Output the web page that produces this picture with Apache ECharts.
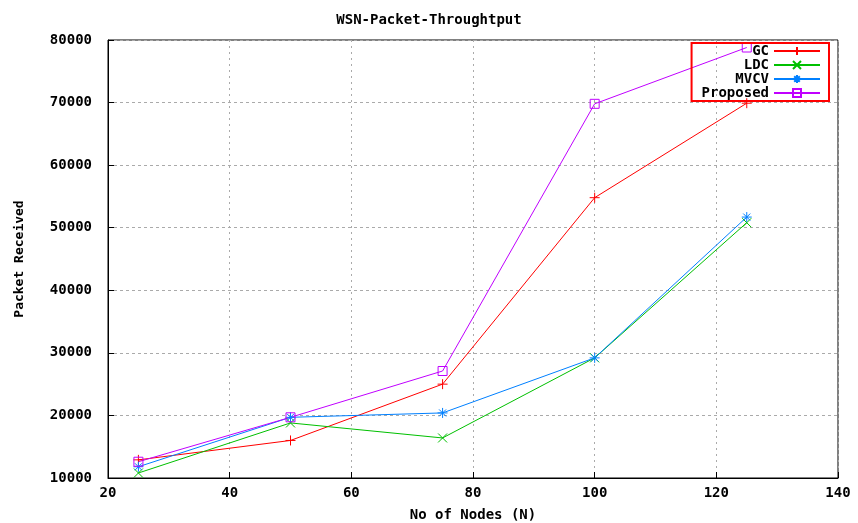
<!DOCTYPE html>
<html>
<head>
<meta charset="utf-8">
<script src="https://cdn.jsdelivr.net/npm/echarts@6/dist/echarts.min.js"></script>
<style>
html,body{margin:0;padding:0;background:#fff;}
#main{width:858px;height:523px;}
</style>
</head>
<body>
<div id="main"></div>
<script>
var nodes = [25, 50, 75, 100, 125];
var gc = [12900, 16000, 25000, 54800, 69900];
var ldc = [10800, 18800, 16400, 29200, 50800];
var mvcv = [11800, 19700, 20400, 29200, 51700];
var proposed = [12600, 19700, 27100, 69800, 78800];

var font = 'DejaVu Sans Mono';
var plus = 'path://M5,0L5,10M0,5L10,5';
var cross = 'path://M0,0L10,10M10,0L0,10';
var star = 'path://M5,0L5,10M0,5L10,5M1.5,1.5L8.5,8.5M8.5,1.5L1.5,8.5';

var mkSeries = function (name, data, color, symbol, size) {
    return {
        name: name,
        type: 'line',
        data: nodes.map(function (n, i) { return [n, data[i]]; }),
        symbol: symbol,
        symbolSize: size,
        showAllSymbol: true,
        lineStyle: {color: color, width: 1},
        itemStyle: {color: 'rgba(0,0,0,0)', borderColor: color, borderWidth: 1},
        emphasis: {disabled: true},
        animation: false
    };
};

var option = {
    backgroundColor: '#fff',
    title: {
        text: 'WSN-Packet-Throughtput',
        left: 'center',
        top: 8,
        textStyle: {fontFamily: font, fontSize: 14, fontWeight: 'bold', color: '#000'}
    },
    legend: {
        right: 29,
        top: 43,
        orient: 'vertical',
        align: 'right',
        itemGap: 0,
        itemWidth: 46,
        itemHeight: 10,
        padding: [1, 8, 1, 10],
        borderColor: '#ff0000',
        borderWidth: 2,
        textStyle: {fontFamily: font, fontSize: 14, fontWeight: 'bold', color: '#000'},
        data: ['GC', 'LDC', 'MVCV', 'Proposed']
    },
    grid: {
        left: 108, right: 20, top: 40, bottom: 45,
        outerBoundsMode: 'none',
        show: true, borderColor: '#000', borderWidth: 1
    },
    xAxis: {
        type: 'value',
        min: 20, max: 140, interval: 20,
        name: 'No of Nodes (N)',
        nameLocation: 'middle',
        nameGap: 30,
        nameTextStyle: {fontFamily: font, fontSize: 14, fontWeight: 'bold', color: '#000'},
        axisLine: {lineStyle: {color: '#000'}},
        axisTick: {inside: true, length: 6, lineStyle: {color: '#000'}},
        axisLabel: {fontFamily: font, fontSize: 14, fontWeight: 'bold', color: '#000', margin: 8},
        splitLine: {lineStyle: {color: '#aaa', type: [2, 4]}}
    },
    yAxis: {
        type: 'value',
        min: 10000, max: 80000, interval: 10000,
        name: 'Packet Received',
        nameLocation: 'middle',
        nameGap: 82,
        nameTextStyle: {fontFamily: font, fontSize: 13, fontWeight: 'bold', color: '#000'},
        axisLine: {show: true, lineStyle: {color: '#000'}},
        axisTick: {show: true, inside: true, length: 6, lineStyle: {color: '#000'}},
        axisLabel: {
            fontFamily: font, fontSize: 14, fontWeight: 'bold', color: '#000', margin: 16,
            formatter: function (v) { return String(v); }
        },
        splitLine: {lineStyle: {color: '#aaa', type: [3, 3]}}
    },
    series: [
        mkSeries('GC', gc, '#ff0000', plus, 10),
        mkSeries('LDC', ldc, '#00c000', cross, 9),
        mkSeries('MVCV', mvcv, '#0080ff', star, 10),
        mkSeries('Proposed', proposed, '#c000ff', 'rect', 9)
    ]
};

var myChart = echarts.init(document.getElementById('main'));
myChart.setOption(option);
</script>
</body>
</html>
